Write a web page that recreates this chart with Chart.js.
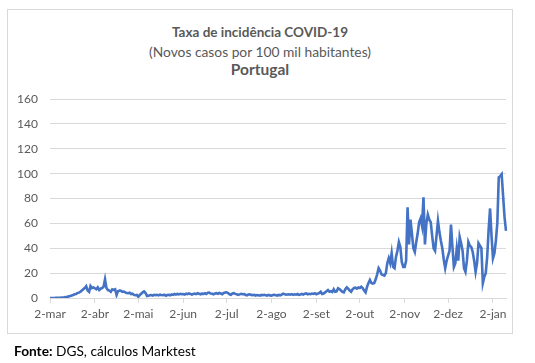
<!DOCTYPE html>
<html>
<head>
<meta charset="utf-8">
<script src="https://cdn.jsdelivr.net/npm/chart.js@4/dist/chart.umd.min.js"></script>
<style>
  body { margin: 0; background: #fff; font-family: Lato, "Open Sans", sans-serif; }
  #box { position: absolute; left: 7px; top: 9px; width: 504px; height: 323px; border: 1px solid #d9d9d9; }
  .t { position: absolute; left: 7px; width: 506px; text-align: center; color: #595959; white-space: nowrap; }
  #t1 { top: 24px; font-size: 13.5px; font-weight: bold; }
  #t2 { top: 43px; font-size: 13.8px; }
  #t3 { top: 60px; font-size: 15.5px; font-weight: bold; }
  #src { position: absolute; left: 14px; top: 342px; font-size: 13.7px; color: #000; }
  canvas { position: absolute; left: 0; top: 0; }
</style>
</head>
<body>
<div id="box"></div>
<div class="t" id="t1">Taxa de incidência COVID-19</div>
<div class="t" id="t2">(Novos casos por 100 mil habitantes)</div>
<div class="t" id="t3">Portugal</div>
<canvas id="c" width="535" height="363"></canvas>
<div id="src"><b>Fonte:</b> DGS, cálculos Marktest</div>
<script>
// tick labels, one per month (each series chunk starts on that day)
const tickLabels = ['2-mar', '2-abr', '2-mai', '2-jun', '2-jul', '2-ago', '2-set', '2-out', '2-nov', '2-dez', '2-jan']

// daily incidence per 100k
const mar = [0,0,0,0,0.1,0.1,0.2,0.2,0.3,0.4,0.5,0.8,1,1.3,1.6,2,2.4,3,3.2,4,4.3,5,6,7,8,9.5,6,5,9.6,8,8.5]
const abr = [7.8,7,8.5,6.5,7.5,8,9,15,8,6.4,6,5,7,6.5,7,2.4,5.5,6,5.9,5,5.2,4.5,4,3.8,4.2,3.2,3.5,2.5,2.2,2.5]
const mai = [1,2.5,3.5,4.5,5.3,4,1.6,1.9,2.2,2.4,2,2.6,2.3,2.5,2.1,2.7,2.4,2.2,2.6,1.8,2.4,2.6,2.2,2.9,2.5,3.2,2.8,3.3,2.9,3.4,3]
const jun = [3.2,2.8,3.5,3.1,3.7,3.3,2.8,3.2,3.6,3.1,3.8,3.4,3,3.5,3.3,3.8,3.2,4.2,4.3,3.6,3.4,3,3.7,3.9,3.4,4,3.6,3.1,4,4.4]
const jul = [4.5,4,3,2.6,3.6,3.9,3.3,3,2.5,2.9,3.4,3,3.2,2.6,2.1,2.8,3,2.5,2.3,2.6,2,2.4,2.2,1.9,2.5,2.2,2.6,2.3,2,2.5,2.1]
const ago = [1.9,2.4,2.6,2.3,2,2.5,2.2,2.7,3.5,3.1,2.6,2.8,3,2.7,3.1,2.5,3,2.7,3.2,2.6,2.9,3.3,2.8,3.5,3.7,3,3.4,3.1,3.6,3.3,3.8]
const set = [3,3.5,4,5,3.2,3.6,4.5,5.5,6.4,5,5.5,4.8,7,5,5.3,7.8,7.2,6,5,4.5,7,8.5,7.5,6,5,7,8,8.3,7.5,8.5]
const out = [8,9,8,6,4.5,9,12,14.5,12,11.5,12,15,19,24,22,19,18.5,18,20,28,32,28,36,25,24,33,38,45,41,29,25]
const nov = [25,30,73,43,63,52,40,37,45,52,61,64,58,81,43,60,67,63,61,50,40,38,50,62,53,46,40,31,24,30]
const dez = [34,38,59,41,25,28,40,30,49,44,38,24,21,30,45,42,41,37,30,21,28,44,42,40,12,17,20,33,55,72,50]
const jan = [32,36,46,60,97,98,99.5,82,65,54]

const chunks = [mar, abr, mai, jun, jul, ago, set, out, nov, dez, jan]
const labels = []
const values = []
chunks.forEach((c, i) => {
  c.forEach((v, d) => {
    labels.push(d === 0 ? tickLabels[i] : '')
    values.push(v)
  })
})

const grey = '#595959'
const gridCol = '#d9d9d9'

new Chart(document.getElementById('c'), {
  type: 'line',
  data: {
    labels: labels,
    datasets: [{
      data: values,
      borderColor: '#4472c4',
      borderWidth: 2.6,
      pointRadius: 0,
      tension: 0,
      fill: false
    }]
  },
  options: {
    responsive: false,
    animation: false,
    layout: { padding: { top: 99, right: 29, left: 0, bottom: 0 } },
    plugins: { legend: { display: false }, tooltip: { enabled: false } },
    scales: {
      x: {
        type: 'category',
        offset: false,
        grid: { drawOnChartArea: false, drawTicks: true, tickLength: 5, color: gridCol },
        border: { color: gridCol },
        ticks: {
          autoSkip: false, maxRotation: 0, padding: 4,
          color: grey, font: { family: 'Lato', size: 12 },
          callback: function (v) { return this.getLabelForValue(v) || null }
        },
        afterFit: s => { s.height = 65 }
      },
      y: {
        min: 0, max: 160,
        grid: { color: gridCol, drawTicks: false },
        border: { display: false },
        ticks: { stepSize: 20, padding: 12, color: grey, font: { family: 'Lato', size: 12 } },
        afterFit: s => { s.width = 50 }
      }
    }
  }
})
</script>
</body>
</html>
